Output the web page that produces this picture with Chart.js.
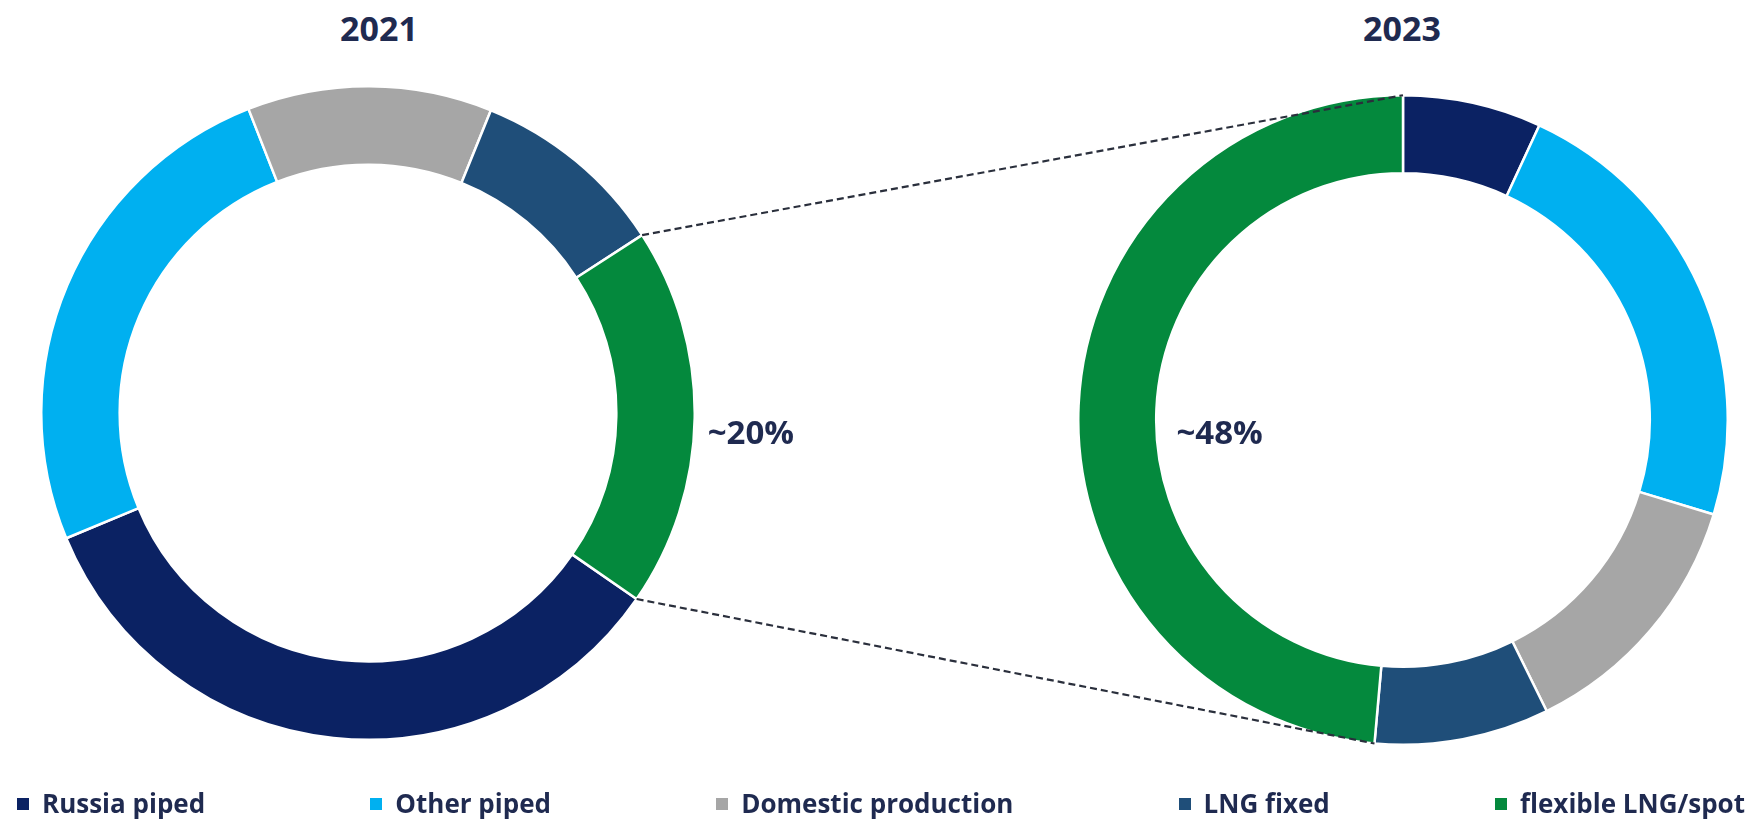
<!DOCTYPE html>
<html>
<head>
<meta charset="utf-8">
<script src="https://cdn.jsdelivr.net/npm/chart.js@4.4.1/dist/chart.umd.min.js"></script>
<style>
  html, body { margin: 0; padding: 0; background: #ffffff; }
  body { width: 1763px; height: 822px; position: relative; overflow: hidden; font-family: "Open Sans", sans-serif; }
  .title { position: absolute; top: 8px; width: 200px; text-align: center; font-weight: 700; font-size: 34px; line-height: 40px; color: #1f2a50; }
  .wrap { position: absolute; }
  #wrapL { left: 40px; top: 85px; width: 656px; height: 656px; }
  #wrapR { left: 1077px; top: 94px; width: 652px; height: 652px; }
  #overlay { position: absolute; left: 0; top: 0; pointer-events: none; }
  #legend { position: absolute; left: 17px; right: 18px; top: 786px; display: flex; justify-content: space-between; }
  .item { display: flex; align-items: center; font-weight: 700; font-size: 26px; line-height: 34px; color: #1f2a50; white-space: nowrap; }
  .box { width: 12px; height: 12px; margin-right: 13px; margin-top: 2px; }
</style>
</head>
<body>
<div class="title" id="titleL" style="left:279px"></div>
<div class="title" id="titleR" style="left:1302px"></div>
<div class="wrap" id="wrapL"><canvas id="chartL" width="656" height="656"></canvas></div>
<div class="wrap" id="wrapR"><canvas id="chartR" width="652" height="652"></canvas></div>
<canvas id="overlay" width="1763" height="822"></canvas>
<div id="legend"></div>
<script>
// ---- data ----
const categories = ['Russia piped', 'Other piped', 'Domestic production', 'LNG fixed', 'flexible LNG/spot'];
const years = ['2021', '2023'];
const shares2021 = [34.1, 25.3, 12.1, 9.7, 18.8];
const shares2023 = [6.9, 22.8, 13.0, 8.7, 48.6];
const calloutLabels = ['~20%', '~48%'];
const colors = ['#0b2263', '#00b0f0', '#a6a6a6', '#1f4e79', '#04893d'];
const textColor = '#1f2a50';
const FLEX = categories.indexOf('flexible LNG/spot');

document.getElementById('titleL').textContent = years[0];
document.getElementById('titleR').textContent = years[1];

// legend
const legend = document.getElementById('legend');
categories.forEach((c, i) => {
  const item = document.createElement('div');
  item.className = 'item';
  const box = document.createElement('span');
  box.className = 'box';
  box.style.background = colors[i];
  const t = document.createElement('span');
  t.textContent = c;
  item.appendChild(box); item.appendChild(t);
  legend.appendChild(item);
});

function makeChart(id, values, rotation) {
  return new Chart(document.getElementById(id), {
    type: 'doughnut',
    data: {
      labels: categories,
      datasets: [{
        data: values,
        backgroundColor: colors,
        borderColor: '#ffffff',
        borderWidth: 2.5,
        hoverOffset: 0
      }]
    },
    options: {
      responsive: false,
      animation: false,
      rotation: rotation,
      cutout: '76%',
      layout: { padding: 0 },
      plugins: {
        legend: { display: false },
        tooltip: { enabled: false },
        title: { display: false }
      }
    }
  });
}

function drawCallout(ctx, arc, rect, text, anchor, dx, dy) {
  const mid = (arc.startAngle + arc.endAngle) / 2;
  const r = anchor === 'outer' ? arc.outerRadius : arc.innerRadius;
  const size = 33;
  const x = rect.left + arc.x + r * Math.cos(mid) + dx;
  const y = rect.top + arc.y + dy + 0.357 * size;
  ctx.save();
  ctx.font = '700 ' + size + 'px "Open Sans"';
  ctx.fillStyle = textColor;
  ctx.textAlign = 'left';
  ctx.textBaseline = 'alphabetic';
  ctx.fillText(text, x, y);
  ctx.restore();
}

function drawAll() {
  const chartL = makeChart('chartL', shares2021, 124.7);
  const chartR = makeChart('chartR', shares2023, 0);

  const ov = document.getElementById('overlay');
  const ctx = ov.getContext('2d');
  const rectL = chartL.canvas.getBoundingClientRect();
  const rectR = chartR.canvas.getBoundingClientRect();
  const aL = chartL.getDatasetMeta(0).data[FLEX];
  const aR = chartR.getDatasetMeta(0).data[FLEX];

  // dashed connector lines between the flexible LNG segments
  const pt = (arc, rect, ang) => [rect.left + arc.x + arc.outerRadius * Math.cos(ang), rect.top + arc.y + arc.outerRadius * Math.sin(ang)];
  const l1 = pt(aL, rectL, aL.startAngle), l2 = pt(aL, rectL, aL.endAngle);
  const r1 = pt(aR, rectR, aR.endAngle), r2 = pt(aR, rectR, aR.startAngle);
  ctx.save();
  ctx.strokeStyle = '#2a2f3c';
  ctx.lineWidth = 2.2;
  ctx.setLineDash([7, 4]);
  ctx.beginPath();
  ctx.moveTo(l1[0], l1[1]); ctx.lineTo(r1[0], r1[1]);
  ctx.moveTo(l2[0], l2[1]); ctx.lineTo(r2[0], r2[1]);
  ctx.stroke();
  ctx.restore();

  // callout share labels
  drawCallout(ctx, aL, rectL, calloutLabels[0], 'outer', 13, 19);
  drawCallout(ctx, aR, rectR, calloutLabels[1], 'inner', 20, 12);
}

if (document.fonts && document.fonts.load) {
  document.fonts.load('700 33px "Open Sans"').then(drawAll, drawAll);
} else {
  drawAll();
}
</script>
</body>
</html>
